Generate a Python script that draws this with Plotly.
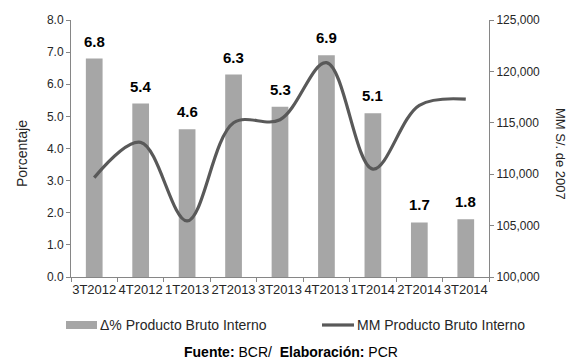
import plotly.graph_objects as go

# Quarterly GDP: growth rate (bars, left axis) and level in millions of 2007 soles (line, right axis)
quarters = ["3T2012", "4T2012", "1T2013", "2T2013", "3T2013",
            "4T2013", "1T2014", "2T2014", "3T2014"]
growth_pct = [6.8, 5.4, 4.6, 6.3, 5.3, 6.9, 5.1, 1.7, 1.8]
gdp_mm = [109670, 113100, 105450, 115000, 115300, 120850, 110490, 116700, 117300]

bar_name = "Δ% Producto Bruto Interno"
line_name = "MM Producto Bruto Interno"

FONT = "Liberation Sans, Arial, sans-serif"
BAR_COLOR = "#A6A6A6"
LINE_COLOR = "#595959"
AXIS_COLOR = "#868686"
TEXT_COLOR = "#262626"

# Plot area in pixels, used to place the legend and notes in paper units
PX_L, PX_R, PX_T, PX_B = 71, 489, 20, 277


def px(xp, yp):
    return (xp - PX_L) / (PX_R - PX_L), (PX_B - yp) / (PX_B - PX_T)


fig = go.Figure()

fig.add_trace(go.Bar(
    x=quarters, y=growth_pct, name=bar_name,
    marker=dict(color=BAR_COLOR, line=dict(width=0)),
    width=0.36,
    showlegend=False,
))

fig.add_trace(go.Scatter(
    x=quarters, y=gdp_mm, name=line_name, yaxis="y2",
    mode="lines",
    line=dict(color=LINE_COLOR, width=3.2, shape="spline", smoothing=1.0),
    showlegend=False,
))

# Value labels above each bar
for q, v in zip(quarters, growth_pct):
    fig.add_annotation(x=q, y=v, xref="x", yref="y", text=f"{v:.1f}",
                       showarrow=False, yanchor="bottom", yshift=7,
                       font=dict(family=FONT, size=15, color="#000000",
                                 weight="bold"))

axis_common = dict(
    showgrid=False, zeroline=False,
    showline=True, linecolor=AXIS_COLOR, linewidth=1,
    ticks="outside", ticklen=4, tickcolor=AXIS_COLOR,
    tickfont=dict(family=FONT, size=12, color=TEXT_COLOR),
)

fig.update_layout(
    width=573, height=362,
    margin=dict(l=PX_L, r=573 - PX_R, t=PX_T, b=362 - PX_B),
    paper_bgcolor="white", plot_bgcolor="white",
    xaxis=dict(**axis_common, type="category", tickson="boundaries",
               tickangle=0),
    yaxis=dict(**axis_common, range=[0, 8], dtick=1, tickformat=".1f"),
    yaxis2=dict(**axis_common, overlaying="y", side="right",
                range=[100000, 125000], dtick=5000, tickformat=",d"),
    font=dict(family=FONT, color=TEXT_COLOR),
)
fig.update_xaxes(tickfont_size=13)

# Axis titles
x, y = px(22, 154)
fig.add_annotation(text="Porcentaje", xref="paper", yref="paper",
                   x=x, y=y, xanchor="center", yanchor="middle",
                   textangle=-90, showarrow=False,
                   font=dict(family=FONT, size=14, color=TEXT_COLOR))
x, y = px(560, 154)
fig.add_annotation(text="MM S/. de 2007", xref="paper", yref="paper",
                   x=x, y=y, xanchor="center", yanchor="middle",
                   textangle=90, showarrow=False,
                   font=dict(family=FONT, size=13, color=TEXT_COLOR))

# Legend drawn below the plot
x0, y0 = px(66, 329)
x1, y1 = px(97, 321)
fig.add_shape(type="rect", xref="paper", yref="paper",
              x0=x0, x1=x1, y0=y0, y1=y1,
              fillcolor=BAR_COLOR, line=dict(width=0))
x, y = px(98, 325)
fig.add_annotation(text=bar_name, xref="paper", yref="paper",
                   x=x, y=y, xanchor="left", yanchor="middle", showarrow=False,
                   font=dict(family=FONT, size=14, color=TEXT_COLOR))
x0, y0 = px(322, 325)
x1, _ = px(354, 325)
fig.add_shape(type="line", xref="paper", yref="paper",
              x0=x0, x1=x1, y0=y0, y1=y0,
              line=dict(color=LINE_COLOR, width=3.2))
x, y = px(355, 325)
fig.add_annotation(text=line_name, xref="paper", yref="paper",
                   x=x, y=y, xanchor="left", yanchor="middle", showarrow=False,
                   font=dict(family=FONT, size=14, color=TEXT_COLOR))

# Source note
x, y = px(291, 352)
fig.add_annotation(text="<b>Fuente:</b> BCR/  <b>Elaboración:</b> PCR",
                   xref="paper", yref="paper",
                   x=x, y=y, xanchor="center", yanchor="middle",
                   showarrow=False,
                   font=dict(family=FONT, size=14, color="#000000"))

fig.write_html("out.html")
